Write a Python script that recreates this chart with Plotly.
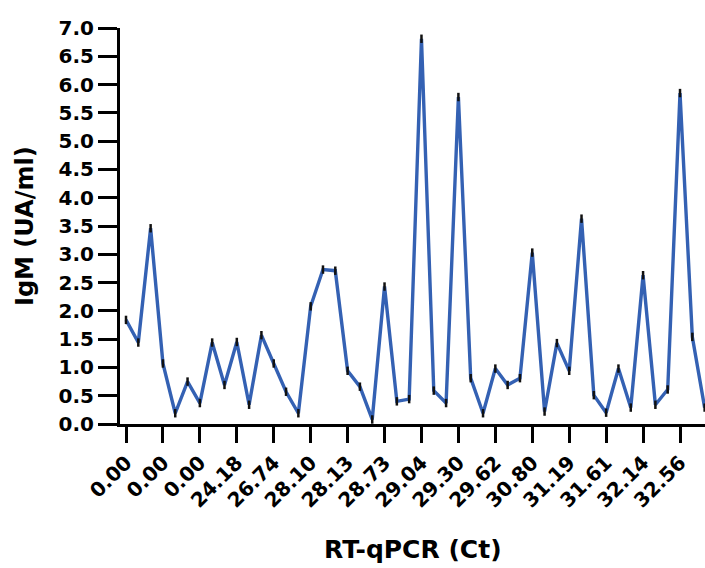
import plotly.graph_objects as go

# IgM values (UA/ml) for each sample, in order along the x axis
igm_values = [1.84, 1.44, 3.46, 1.07, 0.19, 0.75, 0.37, 1.44, 0.69, 1.45,
              0.34, 1.57, 1.07, 0.57, 0.19, 2.08, 2.73, 2.71, 0.94, 0.66,
              0.08, 2.43, 0.40, 0.44, 6.81, 0.59, 0.37, 5.78, 0.81, 0.19,
              0.98, 0.69, 0.81, 3.03, 0.22, 1.43, 0.94, 3.63, 0.51, 0.20,
              0.98, 0.29, 2.63, 0.34, 0.61, 5.85, 1.54, 0.29]
sample_index = list(range(len(igm_values)))

# RT-qPCR Ct labels shown on every third sample
ct_tick_index = list(range(0, 46, 3))
ct_tick_labels = ["0.00", "0.00", "0.00", "24.18", "26.74", "28.10", "28.13",
                  "28.73", "29.04", "29.30", "29.62", "30.80", "31.19",
                  "31.61", "32.14", "32.56"]

FONT = "DejaVu Sans"

fig = go.Figure()
fig.add_trace(go.Scatter(
    x=sample_index, y=igm_values, mode="lines+markers",
    line=dict(color="#3461b3", width=3.4),
    marker=dict(symbol="line-ns", size=6,
                line=dict(color="#111111", width=2.5)),
    cliponaxis=False,
    showlegend=False,
))

fig.update_layout(
    width=705, height=568,
    margin=dict(l=120, r=0, t=28, b=144),
    plot_bgcolor="white", paper_bgcolor="white",
    xaxis=dict(
        range=[-0.487, 47.03],
        tickmode="array", tickvals=ct_tick_index, ticktext=ct_tick_labels,
        tickangle=-45,
        ticks="outside", ticklen=16, tickwidth=3, tickcolor="black",
        showline=True, linecolor="black", linewidth=3,
        showgrid=False, zeroline=False,
        tickfont=dict(family=FONT, size=20, color="black", weight="bold"),
    ),
    yaxis=dict(
        range=[0, 7], dtick=0.5, tick0=0, tickformat=".1f",
        ticks="outside", ticklen=19, tickwidth=3, tickcolor="black",
        showline=True, linecolor="black", linewidth=3,
        showgrid=False, zeroline=False,
        tickfont=dict(family=FONT, size=20, color="black", weight="bold"),
    ),
    annotations=[
        dict(text="IgM (UA/ml)", xref="paper", yref="paper",
             x=-0.1624, y=0.5, xanchor="center", yanchor="middle",
             textangle=-90, showarrow=False,
             font=dict(family=FONT, size=24, color="black", weight="bold")),
        dict(text="RT-qPCR (Ct)", xref="paper", yref="paper",
             x=0.5, y=-0.318, xanchor="center", yanchor="middle",
             showarrow=False,
             font=dict(family=FONT, size=25, color="black", weight="bold")),
    ],
)

fig.write_html("out.html")
